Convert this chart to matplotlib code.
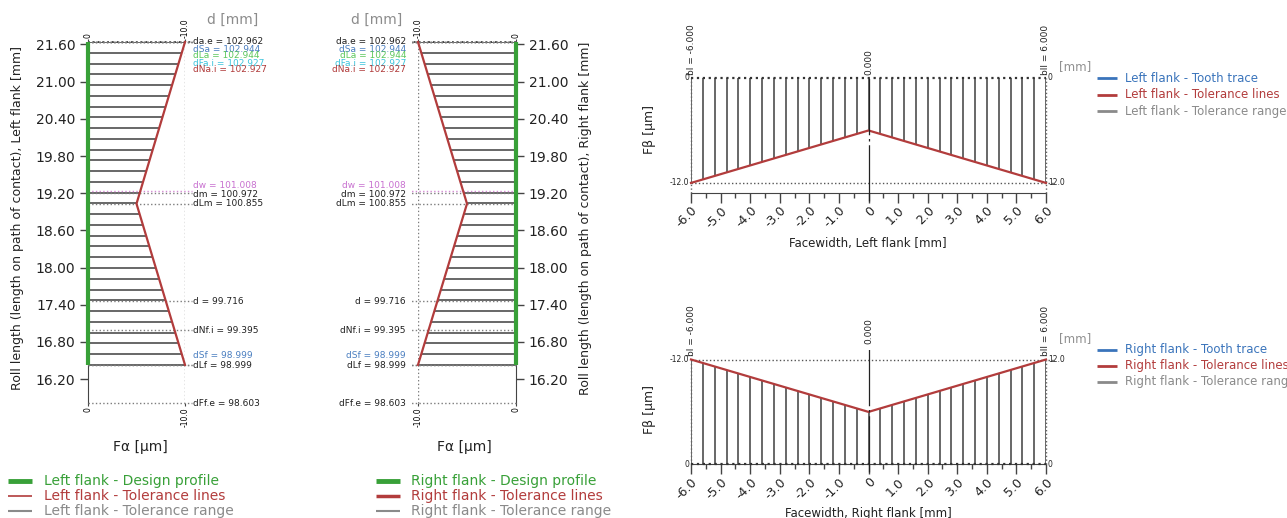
#!/usr/bin/env python3
"""Profile and lead tolerance diagrams for the left and right flank."""
import numpy as np
import matplotlib
matplotlib.use("Agg")
import matplotlib.pyplot as plt
from matplotlib.ticker import FixedLocator, MultipleLocator, FormatStrFormatter

W, H = 1287, 518

# --- profile diagrams (roll length vs. F-alpha) ---
diam_names = ["da.e", "dSa", "dLa", "dFa.i", "dNa.i", "dw", "dm", "dLm",
              "d", "dNf.i", "dSf", "dLf", "dFf.e"]
diam_values = ["102.962", "102.944", "102.944", "102.927", "102.927",
               "101.008", "100.972", "100.855", "99.716", "99.395",
               "98.999", "98.999", "98.603"]
diam_roll = [21.64, 21.64, 21.64, 21.64, 21.64, 19.24, 19.20, 19.03,
             17.46, 16.99, 16.43, 16.43, 15.81]
roll_ticks = [16.20, 16.80, 17.40, 18.00, 18.60, 19.20, 19.80, 20.40, 21.00, 21.60]
fa_ticks = [0.0, -10.0]
fa_ticklabels = ["0", "-10.0"]
tol_roll = [21.64, 19.03, 16.43]
tol_fa = [-10.0, -5.0, -10.0]
design_roll = [21.64, 16.43]
design_fa = [0.0, 0.0]
profile_legend = ["Design profile", "Tolerance lines", "Tolerance range"]

# --- lead diagrams (F-beta vs. facewidth) ---
fw_ticks = [-6, -5, -4, -3, -2, -1, 0, 1, 2, 3, 4, 5, 6]
fw_ticklabels = ["-6.0", "-5.0", "-4.0", "-3.0", "-2.0", "-1.0", "0",
                 "1.0", "2.0", "3.0", "4.0", "5.0", "6.0"]
fw_marks = [-6.0, 0.0, 6.0]
fw_mark_labels = ["bI = -6.000", "0.000", "bII = 6.000"]
lead_fw = [-6.0, 0.0, 6.0]
lead_tol_left = [-12.0, -6.0, -12.0]
lead_tol_right = [12.0, 6.0, 12.0]
edge_labels_left = ["0", "-12.0"]
edge_labels_right = ["0", "12.0"]
lead_legend = ["Tooth trace", "Tolerance lines", "Tolerance range"]

GREEN = "#38a038"
RED = "#b23c3c"
HATCH = "#5c5c5c"
DOT = "#7c7c7c"
BLUE = "#3a74bb"
LGRAY = "#8a8a8a"
DARK = "#404040"

diam_colors = ["#202020", "#4a7ec0", "#5cc85c", "#3cc4dc", "#b03a3a", "#c870d0",
               "#202020", "#202020", "#202020", "#202020", "#4a7ec0", "#202020", "#202020"]
diam_line_colors = [DARK, DOT, DOT, DOT, DOT, "#d58ad5", DOT, DOT, DOT, DOT, DOT, DOT, DOT]
diam_dy = [0, 7, 14, 21, 28, -5, 1, 0, 0, 0, -9, 0.5, 0]   # label shift, px downwards

plt.rcParams["font.family"] = "DejaVu Sans"
plt.rcParams["axes.unicode_minus"] = False

fig = plt.figure(figsize=(W / 100, H / 100), dpi=100)


def px_axes(x0, y0, x1, y1):
    return fig.add_axes([x0 / W, 1 - y1 / H, (x1 - x0) / W, (y1 - y0) / H])


def draw_profile(ax, mirrored):
    ax.set_xlim((-10, 0) if mirrored else (0, -10))
    ax.set_ylim(15.81, 21.64)
    ax.patch.set_alpha(0)

    # tolerance range hatching between design profile and tolerance line
    hy = np.linspace(tol_roll[0], tol_roll[-1], 31)
    hx = np.interp(hy, tol_roll[::-1], tol_fa[::-1])
    ax.hlines(hy, 0, hx, color=HATCH, lw=1.3, zorder=2)
    ax.plot(tol_fa, tol_roll, color=RED, lw=1.6, zorder=4, clip_on=False)
    ax.plot(design_fa, design_roll, color=GREEN, lw=3, zorder=5,
            clip_on=False, solid_capstyle="butt")
    ax.plot([-10, -10], [15.81, 21.64], color=DOT, ls=":", lw=1, zorder=1)

    for name, val, r, col, lc, dy in zip(diam_names, diam_values, diam_roll,
                                          diam_colors, diam_line_colors, diam_dy):
        ax.plot([0, -10.75], [r, r], color=lc, ls=":", lw=1.3 if lc == DARK else 1,
                zorder=3, clip_on=False)
        ax.annotate(f"{name} = {val}", xy=(-10, r),
                    xytext=(-12 if mirrored else 8, -dy), textcoords="offset pixels",
                    ha="right" if mirrored else "left", va="center",
                    fontsize=6.5, color=col, annotation_clip=False)

    ax.yaxis.set_major_locator(FixedLocator(roll_ticks))
    ax.yaxis.set_major_formatter(FormatStrFormatter("%.2f"))
    ax.tick_params(axis="y", labelsize=10, length=6, width=1, color="#444", pad=3,
                   labelcolor="#222", left=not mirrored, labelleft=not mirrored,
                   right=mirrored, labelright=mirrored)
    ax.set_xticks(fa_ticks)
    ax.set_xticklabels(fa_ticklabels)
    ax.tick_params(axis="x", top=True, labeltop=True, bottom=True, labelbottom=True,
                   labelsize=5.5, labelrotation=90, length=2, pad=1, color="#444")
    for s in ax.spines.values():
        s.set_visible(False)
    sp = ax.spines["right" if mirrored else "left"]
    sp.set_visible(True)
    sp.set_color("#444")


def draw_lead(ax, tol, zero_top):
    ax.set_xlim(-6, 6)
    y0, y1 = (-13.15, 0) if zero_top else (0, 12)
    ax.set_ylim(y0, y1)
    ax.patch.set_alpha(0)
    lim = tol[0]
    ref = 0 if zero_top else 12

    hx = np.linspace(lead_fw[0], lead_fw[-1], 31)
    hy = np.interp(hx, lead_fw, tol)
    ax.vlines(hx, 0, hy, color=HATCH, lw=1.3, zorder=2)
    ax.plot(lead_fw, tol, color=RED, lw=1.6, zorder=4, clip_on=False)
    ax.plot([-6, 6], [0, 0], color="#333", ls=":", lw=1.6, zorder=5, clip_on=False)
    ax.plot([-6, 6.3], [lim, lim], color="#555", ls=":", lw=1, zorder=3, clip_on=False)

    # facewidth marks
    ax.vlines([fw_marks[0], fw_marks[2]], y0, ref, color="#666", ls=":", lw=1,
              zorder=3, clip_on=False)
    top_c = ref if zero_top else ref + 1.6
    ax.plot([0, 0], [y0 - 0.9, top_c], color="#222", lw=0.9, zorder=5, clip_on=False,
            dashes=(45, 3, 2, 3))
    for x, lab in zip(fw_marks, fw_mark_labels):
        off = 3 if (zero_top or x != 0) else 15
        ax.annotate(lab, xy=(x, ref), xytext=(0, off), textcoords="offset pixels",
                    rotation=90, ha="center", va="bottom", fontsize=6.5, color="#222",
                    annotation_clip=False)
    for v, ll, rl in zip([0, lim], edge_labels_left, edge_labels_right):
        ax.annotate(ll, xy=(-6, v), xytext=(-2, 0), textcoords="offset pixels",
                    ha="right", va="center", fontsize=5.5, color="#222",
                    annotation_clip=False)
        ax.annotate(rl, xy=(6, v), xytext=(2, 0), textcoords="offset pixels",
                    ha="left", va="center", fontsize=5.5, color="#222",
                    annotation_clip=False)

    ax.xaxis.set_major_locator(FixedLocator(fw_ticks))
    ax.set_xticklabels(fw_ticklabels)
    ax.xaxis.set_minor_locator(MultipleLocator(0.5))
    ax.tick_params(axis="x", which="major", length=7, width=1, color="#444",
                   labelsize=9, pad=1, labelcolor="#222")
    ax.tick_params(axis="x", which="minor", length=3.5, width=1, color="#444")
    for lab in ax.get_xticklabels():
        lab.set_rotation(45)
        lab.set_ha("right")
        lab.set_rotation_mode("anchor")
    ax.set_yticks([])
    for s in ax.spines.values():
        s.set_visible(False)
    ax.spines["bottom"].set_visible(True)
    ax.spines["bottom"].set_color("#444")


# overlay in pixel coordinates for titles and legends
lay = fig.add_axes([0, 0, 1, 1])
lay.set_xlim(0, W)
lay.set_ylim(H, 0)
lay.axis("off")

draw_profile(px_axes(88, 42, 185, 403.3), mirrored=False)
draw_profile(px_axes(418, 42, 516, 403.3), mirrored=True)
draw_lead(px_axes(691, 78, 1046, 193), lead_tol_left, zero_top=True)
draw_lead(px_axes(691, 359.5, 1046, 464.3), lead_tol_right, zero_top=False)

# axis titles
lay.text(207, 20, "d [mm]", fontsize=10, color="#8c8c8c", ha="left", va="center")
lay.text(402, 20, "d [mm]", fontsize=10, color="#8c8c8c", ha="right", va="center")
lay.text(140, 447, "Fα [μm]", fontsize=10, color="#222", ha="center", va="center")
lay.text(464, 447, "Fα [μm]", fontsize=10, color="#222", ha="center", va="center")
lay.text(18, 218, "Roll length (length on path of contact), Left flank [mm]",
         fontsize=9, rotation=90, ha="center", va="center", color="#222")
lay.text(586, 218, "Roll length (length on path of contact), Right flank [mm]",
         fontsize=9, rotation=90, ha="center", va="center", color="#222")
lay.text(650, 130, "Fβ [μm]", fontsize=9, rotation=90, ha="center", va="center", color="#222")
lay.text(650, 410, "Fβ [μm]", fontsize=9, rotation=90, ha="center", va="center", color="#222")
lay.text(868, 243, "Facewidth, Left flank [mm]", fontsize=8.5, ha="center", va="center", color="#222")
lay.text(868, 513, "Facewidth, Right flank [mm]", fontsize=8.5, ha="center", va="center", color="#222")
lay.text(1059, 67, "[mm]", fontsize=8.5, ha="left", va="center", color="#909090")
lay.text(1059, 339, "[mm]", fontsize=8.5, ha="left", va="center", color="#909090")

# legends
prof_cols = [GREEN, RED, LGRAY]
prof_lw = [3.5, 1.2, 1.5]
rows = [481, 496, 510.5]
for lab, c, lw, y in zip(profile_legend, prof_cols, prof_lw, rows):
    lay.plot([8, 32], [y, y], color=c, lw=lw, solid_capstyle="butt")
    lay.text(44, y, "Left flank - " + lab, fontsize=10, color=c, ha="left", va="center")

mid = px_axes(370, 470, 612, 518)
mid.set_xlim(370, 612)
mid.set_ylim(518, 470)
mid.axis("off")
mid_lw = [3.5, 2.5, 1.5]
for lab, c, lw, y in zip(profile_legend, prof_cols, mid_lw, rows):
    mid.plot([376, 400], [y, y], color=c, lw=lw, solid_capstyle="butt")
    mid.text(411, y, "Right flank - " + lab, fontsize=10, color=c, ha="left",
             va="center", clip_on=True)

lead_cols = [BLUE, RED, LGRAY]
for side, rws in (("Left", [78, 94.5, 111]), ("Right", [350, 366, 382])):
    for lab, c, y in zip(lead_legend, lead_cols, rws):
        lay.plot([1097, 1117], [y, y], color=c, lw=2, solid_capstyle="butt")
        lay.text(1125, y, f"{side} flank - " + lab, fontsize=8.5, color=c,
                 ha="left", va="center")

fig.savefig("out.png", dpi=100)
